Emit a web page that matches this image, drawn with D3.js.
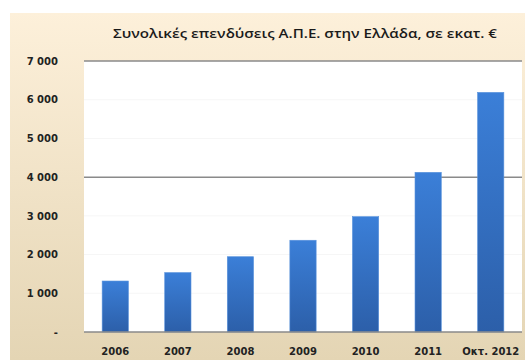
<!DOCTYPE html>
<html>
<head>
<meta charset="utf-8">
<script src="https://cdn.jsdelivr.net/npm/d3@7"></script>
<style>
  html, body { margin: 0; padding: 0; background: #ffffff; }
  svg { display: block; }
</style>
</head>
<body>
<svg id="chart" width="525" height="360"></svg>
<script>
// Total renewable-energy investments in Greece, million €
const categories = ["2006", "2007", "2008", "2009", "2010", "2011", "Οκτ. 2012"];
const investments = [1317, 1535, 1945, 2370, 2980, 4125, 6190];
const yTicks = [0, 1000, 2000, 3000, 4000, 5000, 6000, 7000];
const yTickLabels = ["-", "1 000", "2 000", "3 000", "4 000", "5 000", "6 000", "7 000"];
const strongGrid = [4000, 7000];
const title = "Συνολικές επενδύσεις Α.Π.Ε. στην Ελλάδα, σε εκατ. €";

const svg = d3.select("#chart");
const defs = svg.append("defs");

const bg = defs.append("linearGradient").attr("id", "bgGrad")
  .attr("x1", 0).attr("y1", 0).attr("x2", 0).attr("y2", 1);
bg.append("stop").attr("offset", "0%").attr("stop-color", "#fdf0da");
bg.append("stop").attr("offset", "100%").attr("stop-color", "#e4d5b4");

const barGrad = defs.append("linearGradient").attr("id", "barGrad")
  .attr("x1", 0).attr("y1", 0).attr("x2", 0).attr("y2", 1);
barGrad.append("stop").attr("offset", "0%").attr("stop-color", "#3b7fd8");
barGrad.append("stop").attr("offset", "100%").attr("stop-color", "#2c5fa9");

// chart background panel
svg.append("rect")
  .attr("x", 10).attr("y", 13).attr("width", 515).attr("height", 347)
  .attr("fill", "url(#bgGrad)");

const plot = { left: 84, right: 522, top: 61, bottom: 332 };

// plot area
svg.append("rect")
  .attr("x", plot.left).attr("y", plot.top)
  .attr("width", plot.right - plot.left).attr("height", plot.bottom - plot.top)
  .attr("fill", "#ffffff");

const x = d3.scaleBand()
  .domain(categories)
  .range([plot.left, plot.right])
  .paddingInner(0.58).paddingOuter(0.29);

const y = d3.scaleLinear()
  .domain([0, 7000])
  .range([plot.bottom, plot.top]);

// gridlines
svg.append("g")
  .selectAll("line")
  .data(yTicks.filter(d => d > 0))
  .join("line")
  .attr("x1", plot.left).attr("x2", plot.right)
  .attr("y1", d => y(d)).attr("y2", d => y(d))
  .attr("stroke", d => strongGrid.includes(d) ? "#8a8a8a" : "#f6f6f6")
  .attr("stroke-width", d => strongGrid.includes(d) ? 1.5 : 1);

// bars
svg.append("g")
  .selectAll("rect")
  .data(investments)
  .join("rect")
  .attr("x", (d, i) => x(categories[i]))
  .attr("y", d => y(d))
  .attr("width", x.bandwidth())
  .attr("height", d => y(0) - y(d))
  .attr("fill", "url(#barGrad)")
  .attr("stroke", "#5a93dc")
  .attr("stroke-width", 0.6);

// baseline
svg.append("line")
  .attr("x1", plot.left).attr("x2", plot.right)
  .attr("y1", plot.bottom).attr("y2", plot.bottom)
  .attr("stroke", "#8a8a8a").attr("stroke-width", 1.5);

// y axis labels
const yAxis = d3.axisLeft(y)
  .tickValues(yTicks)
  .tickFormat((d, i) => yTickLabels[i])
  .tickSize(0).tickPadding(0);
const yg = svg.append("g").attr("transform", "translate(58,0)").call(yAxis);
yg.select(".domain").remove();
yg.selectAll("text")
  .attr("font-family", "'DejaVu Sans', sans-serif")
  .attr("font-size", 10).attr("font-weight", "bold").attr("fill", "#222");

// x axis labels
const xAxis = d3.axisBottom(x).tickSize(0).tickPadding(0);
const xg = svg.append("g").attr("transform", `translate(0,${plot.bottom + 16})`).call(xAxis);
xg.select(".domain").remove();
xg.selectAll("text")
  .attr("font-family", "'DejaVu Sans', sans-serif")
  .attr("font-size", 10).attr("font-weight", "bold").attr("fill", "#222");

// title
svg.append("text")
  .attr("x", 305).attr("y", 38)
  .attr("text-anchor", "middle")
  .attr("font-family", "'Open Sans', sans-serif")
  .attr("font-size", 12).attr("font-weight", "600").attr("fill", "#1a1a1a")
  .attr("textLength", 384).attr("lengthAdjust", "spacingAndGlyphs")
  .text(title);
</script>
</body>
</html>
